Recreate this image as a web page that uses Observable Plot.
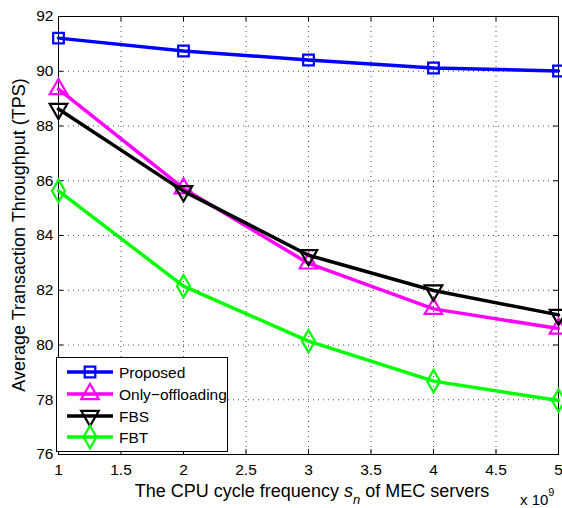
<!DOCTYPE html>
<html>
<head>
<meta charset="utf-8">
<script src="https://cdn.jsdelivr.net/npm/d3@7"></script>
<script src="https://cdn.jsdelivr.net/npm/@observablehq/plot@0.6"></script>
<style>
  html, body { margin: 0; padding: 0; background: #fff; }
  #chart { width: 562px; height: 508px; }
</style>
</head>
<body>
<div id="chart"></div>
<script>
const xValues = [1, 2, 3, 4, 5];
const proposed = [91.21, 90.74, 90.41, 90.12, 90.01];
const onlyOffloading = [89.35, 85.72, 82.98, 81.32, 80.6];
const fbs = [88.62, 85.62, 83.28, 81.99, 81.1];
const fbt = [85.63, 82.15, 80.14, 78.68, 77.97];
const seriesNames = ["Proposed", "Only\u2212offloading", "FBS", "FBT"];
const seriesValues = [proposed, onlyOffloading, fbs, fbt];
const seriesColors = ["#0000ff", "#ff00ff", "#000000", "#00ff00"];
const seriesSymbols = ["square", "triangle", "triangle", "diamond"];
const seriesRotate = [0, 0, 180, 0];
const seriesR = [6, 6.5, 6.5, 6.8];
const xTicks = [1, 1.5, 2, 2.5, 3, 3.5, 4, 4.5, 5];
const yTicks = [76, 78, 80, 82, 84, 86, 88, 90, 92];

const W = 562, H = 508;
const mL = 58, mR = 4, mT = 16, mB = 54;
const innerW = W - mL - mR, innerH = H - mT - mB;

const rows = [];
seriesNames.forEach((name, i) => {
  xValues.forEach((x, j) => rows.push({series: name, x, y: seriesValues[i][j], i}));
});

const marks = [
  Plot.gridX(xTicks, {stroke: "#000", strokeOpacity: 0.7, strokeDasharray: "1,4", strokeWidth: 1}),
  Plot.gridY(yTicks, {stroke: "#000", strokeOpacity: 0.7, strokeDasharray: "1,4", strokeWidth: 1}),
  Plot.tickX(xTicks, {x: d => d, insetTop: innerH - 5, stroke: "#000"}),
  Plot.tickX(xTicks, {x: d => d, insetBottom: innerH - 5, stroke: "#000"}),
  Plot.tickY(yTicks, {y: d => d, insetLeft: innerW - 5, stroke: "#000"}),
  Plot.tickY(yTicks, {y: d => d, insetRight: innerW - 5, stroke: "#000"}),
  Plot.axisX(xTicks, {tickSize: 0, tickPadding: 9, fontSize: 15.5, label: null, tickFormat: d => String(d)}),
  Plot.axisY(yTicks, {tickSize: 0, tickPadding: 5, fontSize: 15.5, label: null, tickFormat: d => String(d)}),
  Plot.frame({stroke: "#000", strokeWidth: 1})
];
seriesNames.forEach((name, i) => {
  const d = rows.filter(r => r.i === i);
  marks.push(Plot.line(d, {x: "x", y: "y", stroke: seriesColors[i], strokeWidth: 3.5, clip: false}));
  marks.push(Plot.dot(d, {x: "x", y: "y", stroke: seriesColors[i], fill: "none", strokeWidth: 2.2,
    symbol: seriesSymbols[i], r: seriesR[i], rotate: seriesRotate[i]}));
});

const chart = Plot.plot({
  width: W, height: H,
  marginLeft: mL, marginRight: mR, marginTop: mT, marginBottom: mB,
  style: {fontFamily: "'Liberation Sans', Arial, Helvetica, sans-serif", fontSize: "15px", background: "#fff", color: "#000", overflow: "visible"},
  x: {domain: [1, 5]},
  y: {domain: [76, 92]},
  marks
});
document.getElementById("chart").appendChild(chart);

const svg = d3.select(chart);
const font = "'Liberation Sans', Arial, Helvetica, sans-serif";

// x label with subscript
const xl = svg.append("text")
  .attr("x", mL + innerW / 2 + 4).attr("y", 497)
  .attr("text-anchor", "middle").attr("font-family", font).attr("font-size", 18).attr("fill", "#000");
xl.append("tspan").text("The CPU cycle frequency ");
xl.append("tspan").attr("font-style", "italic").text("s");
xl.append("tspan").attr("font-style", "italic").attr("font-size", 13).attr("dy", 7).text("n");
xl.append("tspan").attr("dy", -7).text(" of MEC servers");

// exponent
const ex = svg.append("text").attr("x", 520).attr("y", 505).attr("text-anchor", "start")
  .attr("font-family", font).attr("font-size", 15).attr("fill", "#000");
ex.append("tspan").text("x 10");
ex.append("tspan").attr("font-size", 11).attr("dy", -9).text("9");

// y label
svg.append("text")
  .attr("transform", `translate(25,${mT + innerH / 2}) rotate(-90)`)
  .attr("text-anchor", "middle").attr("font-family", font).attr("font-size", 18).attr("fill", "#000")
  .text("Average Transaction Throughput (TPS)");

// legend
const lg = svg.append("g").attr("text-anchor", "start");
lg.append("rect").attr("x", 56.5).attr("y", 357.5).attr("width", 171).attr("height", 94)
  .attr("fill", "#fff").attr("stroke", "#000").attr("stroke-width", 1);
const rowY = [372, 394, 416, 437];
const symMap = {square: d3.symbolSquare, triangle: d3.symbolTriangle, diamond: d3.symbolDiamond};
seriesNames.forEach((name, i) => {
  const y = rowY[i];
  lg.append("line").attr("x1", 67).attr("x2", 113).attr("y1", y).attr("y2", y)
    .attr("stroke", seriesColors[i]).attr("stroke-width", 3.5);
  lg.append("path")
    .attr("d", d3.symbol(symMap[seriesSymbols[i]], Math.PI * seriesR[i] * seriesR[i])())
    .attr("transform", `translate(90,${y}) rotate(${seriesRotate[i]})`)
    .attr("fill", "none").attr("stroke", seriesColors[i]).attr("stroke-width", 2.2);
  lg.append("text").attr("x", 119).attr("y", y).attr("dy", "0.36em").attr("text-anchor", "start")
    .attr("font-family", font).attr("font-size", 15.5).attr("fill", "#000").text(name);
});
</script>
</body>
</html>
